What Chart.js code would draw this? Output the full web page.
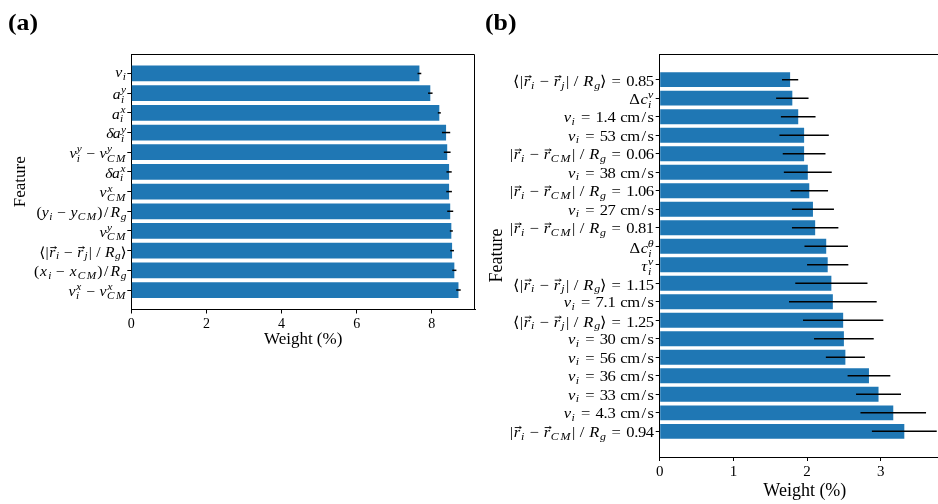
<!DOCTYPE html>
<html>
<head>
<meta charset="utf-8">
<title>Feature weights</title>
<script src="https://cdn.jsdelivr.net/npm/chart.js@4.4.1/dist/chart.umd.min.js"></script>
<style>
  html, body { margin: 0; padding: 0; background: #fff; }
  #fig { position: relative; width: 938px; height: 504px; overflow: hidden; background: #fff; }
  #fig canvas { position: absolute; top: 0; }
</style>
</head>
<body>
<div id="fig">
  <canvas id="panelA" width="480" height="504" style="left:0px"></canvas>
  <canvas id="panelB" width="490" height="504" style="left:470px"></canvas>
</div>
<script>
// ---- panel (a): feature weights, top to bottom ----
const featuresA = [
  "v_i",
  "a_i^y",
  "a_i^x",
  "\\delta a_i^y",
  "v_i^y - v_{CM}^y",
  "\\delta a_i^x",
  "v_{CM}^x",
  "(y_i - y_{CM})/R_g",
  "v_{CM}^y",
  "\\langle|\\vec{r}_i - \\vec{r}_j|\\,/\\,R_g\\rangle",
  "(x_i - x_{CM})/R_g",
  "v_i^x - v_{CM}^x"
];
const weightsA = [7.67, 7.96, 8.20, 8.38, 8.41, 8.46, 8.46, 8.49, 8.52, 8.54, 8.60, 8.71];
const errorsA  = [0.05, 0.06, 0.04, 0.11, 0.09, 0.07, 0.075, 0.08, 0.04, 0.05, 0.055, 0.06];
const ticksA   = [0, 2, 4, 6, 8];

// ---- panel (b): feature weights, top to bottom ----
const featuresB = [
  "\\langle|\\vec{r}_i - \\vec{r}_j|\\,/\\,R_g\\rangle = 0.85",
  "\\Delta c_i^v",
  "v_i = 1.4\\rm{ cm/s}",
  "v_i = 53\\rm{ cm/s}",
  "|\\vec{r}_i - \\vec{r}_{CM}|\\,/\\,R_g = 0.06",
  "v_i = 38\\rm{ cm/s}",
  "|\\vec{r}_i - \\vec{r}_{CM}|\\,/\\,R_g = 1.06",
  "v_i = 27\\rm{ cm/s}",
  "|\\vec{r}_i - \\vec{r}_{CM}|\\,/\\,R_g = 0.81",
  "\\Delta c_i^\\theta",
  "\\tau_i^v",
  "\\langle|\\vec{r}_i - \\vec{r}_j|\\,/\\,R_g\\rangle = 1.15",
  "v_i = 7.1\\rm{ cm/s}",
  "\\langle|\\vec{r}_i - \\vec{r}_j|\\,/\\,R_g\\rangle = 1.25",
  "v_i = 30\\rm{ cm/s}",
  "v_i = 56\\rm{ cm/s}",
  "v_i = 36\\rm{ cm/s}",
  "v_i = 33\\rm{ cm/s}",
  "v_i = 4.3\\rm{ cm/s}",
  "|\\vec{r}_i - \\vec{r}_{CM}|\\,/\\,R_g = 0.94"
];
const weightsB = [1.77, 1.80, 1.88, 1.96, 1.96, 2.01, 2.03, 2.08, 2.11, 2.26,
                  2.28, 2.33, 2.35, 2.49, 2.50, 2.52, 2.84, 2.97, 3.17, 3.32];
const errorsB  = [0.11, 0.22, 0.235, 0.335, 0.29, 0.325, 0.255, 0.285, 0.315, 0.295,
                  0.28, 0.49, 0.595, 0.545, 0.405, 0.265, 0.29, 0.305, 0.445, 0.44];
const ticksB   = [0, 1, 2, 3];

const BAR_COLOR = '#1f77b4';
const SERIF = '"Liberation Serif", "DejaVu Serif", serif';

// ---- tiny math-label typesetter (italic symbols, sub/superscripts, vector arrows) ----
const SYMBOLS = {
  langle: ['\u27E8', false], rangle: ['\u27E9', false],
  Delta: ['\u0394', false], delta: ['\u03B4', true],
  tau: ['\u03C4', true], theta: ['\u03B8', true]
};

// advance widths (em) of the Computer Modern glyphs used in the labels
const ADV_ITALIC = {
  v: .485, a: .529, x: .572, y: .49, r: .451, i: .345, j: .412, g: .477, c: .433,
  C: .715, M: .97, R: .759, '\u03B4': .444, '\u03C4': .437, '\u03B8': .469
};
const ADV_ROMAN = {
  '0': .5, '1': .5, '2': .5, '3': .5, '4': .5, '5': .5, '6': .5, '7': .5, '8': .5, '9': .5,
  '.': .278, '(': .389, ')': .389, '/': .5, '|': .278, '\u0394': .833,
  c: .444, m: .833, s: .394, ' ': .333, '\u27E8': .389, '\u27E9': .389
};
const SCRIPT_GLYPH = 0.72;   // script glyph size relative to the base size
const SCRIPT_ADV = 0.82;     // script advance relative to the base advance
const STRETCH = 1.12;        // horizontal widening of the glyphs

function parseMath(s) {
  let p = 0;
  function atom() {
    const c = s[p];
    if (c === '{') { p++; const list = seq('}'); p++; return { kind: 'group', list }; }
    if (c === '\\') {
      p++;
      if (s[p] === ',') { p++; return { kind: 'space', w: 0.167 }; }
      let name = '';
      while (p < s.length && /[A-Za-z]/.test(s[p])) name += s[p++];
      if (name === 'vec') return { kind: 'vec', base: atom() };
      if (name === 'rm') {
        p++; let t = '';
        while (s[p] !== '}') t += s[p++];
        p++;
        return { kind: 'text', text: t, italic: false };
      }
      const sym = SYMBOLS[name];
      return { kind: 'text', text: sym[0], italic: sym[1] };
    }
    p++;
    if (/[A-Za-z]/.test(c)) return { kind: 'text', text: c, italic: true };
    if (c === '-') return { kind: 'op', text: '\u2212', gap: 0.222 };
    if (c === '=') return { kind: 'op', text: '=', gap: 0.278 };
    return { kind: 'text', text: c, italic: false };
  }
  function seq(end) {
    const out = [];
    while (p < s.length && s[p] !== end) {
      if (s[p] === ' ') { p++; continue; }
      if (s[p] === '_' || s[p] === '^') {
        const which = s[p++];
        const arg = atom();
        let last = out[out.length - 1];
        if (!last || last.kind !== 'script') {
          last = { kind: 'script', base: last, sub: null, sup: null };
          out[out.length - 1] = last;
        }
        if (which === '_') last.sub = arg; else last.sup = arg;
        continue;
      }
      out.push(atom());
    }
    return out;
  }
  return { kind: 'group', list: seq(undefined) };
}

function setFont(ctx, italic, size) {
  ctx.font = (italic ? 'italic ' : '') + size + 'px ' + SERIF;
}

function drawGlyph(ctx, ch, x, y) {
  ctx.save();
  ctx.translate(x, y);
  ctx.scale(STRETCH, 1);
  ctx.fillText(ch, 0, 0);
  ctx.restore();
}

// lays out (and optionally draws) a node; size = glyph px, unit = px per em of advance.
// returns the width and the ink height above the baseline
function typeset(ctx, node, size, unit, x, y, draw) {
  switch (node.kind) {
    case 'group': {
      let w = 0, asc = 0;
      for (const n of node.list) {
        const b = typeset(ctx, n, size, unit, x + w, y, draw);
        w += b.w; asc = Math.max(asc, b.asc);
      }
      return { w, asc };
    }
    case 'text': {
      setFont(ctx, node.italic, size);
      const table = node.italic ? ADV_ITALIC : ADV_ROMAN;
      let w = 0, asc = 0;
      for (const ch of node.text) {
        const m = ctx.measureText(ch);
        const gw = m.width * STRETCH;
        const adv = table[ch] !== undefined ? table[ch] * unit : gw * unit / size;
        if (draw) drawGlyph(ctx, ch, x + w + (adv - gw) / 2, y);
        w += adv;
        asc = Math.max(asc, m.actualBoundingBoxAscent);
      }
      return { w, asc };
    }
    case 'op': {
      setFont(ctx, false, size);
      const m = ctx.measureText(node.text);
      const gw = m.width * STRETCH;
      const adv = (0.778 + 2 * node.gap) * unit;
      if (draw) drawGlyph(ctx, node.text, x + (adv - gw) / 2, y);
      return { w: adv, asc: m.actualBoundingBoxAscent };
    }
    case 'space':
      return { w: node.w * unit, asc: 0 };
    case 'vec': {
      const b = typeset(ctx, node.base, size, unit, x, y, draw);
      const ay = y - size * 0.64;
      const xs = x + b.w * 0.5 - size * 0.15;
      const xe = xs + size * 0.44;
      if (draw) {
        ctx.save();
        ctx.strokeStyle = ctx.fillStyle;
        ctx.lineWidth = 0.9;
        ctx.beginPath();
        ctx.moveTo(xs, ay); ctx.lineTo(xe, ay);
        ctx.moveTo(xe - size * 0.12, ay - size * 0.08); ctx.lineTo(xe, ay);
        ctx.lineTo(xe - size * 0.12, ay + size * 0.08);
        ctx.stroke();
        ctx.restore();
      }
      return { w: b.w, asc: size * 0.72 };
    }
    case 'script': {
      const b = node.base ? typeset(ctx, node.base, size, unit, x, y, draw) : { w: 0, asc: 0 };
      const s = size * SCRIPT_GLYPH, u = unit * SCRIPT_ADV;
      const both = node.sub && node.sup;
      let w = 0, asc = b.asc;
      if (node.sup) {
        const dy = size * (both ? 0.40 : 0.38);
        const r = typeset(ctx, node.sup, s, u, x + b.w, y - dy, draw);
        w = Math.max(w, r.w); asc = Math.max(asc, r.asc + dy);
      }
      if (node.sub) {
        const dy = size * (both ? 0.27 : 0.18);
        const r = typeset(ctx, node.sub, s, u, x + b.w, y + dy, draw);
        w = Math.max(w, r.w);
      }
      return { w: b.w + w, asc };
    }
  }
  return { w: 0, asc: 0 };
}

function panelChart(canvasId, spec) {
  const parsed = spec.features.map(parseMath);
  const data = spec.weights.map((w, i) => ({ x: w, y: i }));

  const errorBars = {
    id: 'errorBars',
    afterDatasetsDraw(chart) {
      const { ctx, scales: { x, y } } = chart;
      ctx.save();
      ctx.strokeStyle = '#000';
      ctx.lineWidth = 1.5;
      spec.weights.forEach((w, i) => {
        const py = y.getPixelForValue(i);
        ctx.beginPath();
        ctx.moveTo(x.getPixelForValue(w - spec.errors[i]), py);
        ctx.lineTo(x.getPixelForValue(w + spec.errors[i]), py);
        ctx.stroke();
      });
      ctx.restore();
    }
  };

  const frame = {
    id: 'frame',
    afterDraw(chart) {
      const { ctx, chartArea: a } = chart;
      const t = Math.round(a.top) + 0.5, r = Math.round(a.right) - 0.5;
      ctx.save();
      ctx.strokeStyle = '#000';
      ctx.lineWidth = 1;
      ctx.beginPath();
      ctx.moveTo(a.left, t); ctx.lineTo(r, t); ctx.lineTo(r, a.bottom);
      ctx.stroke();
      ctx.restore();
    }
  };

  const featureLabels = {
    id: 'featureLabels',
    afterDraw(chart) {
      const { ctx, chartArea: a, scales: { y } } = chart;
      ctx.save();
      ctx.fillStyle = '#000';
      ctx.textBaseline = 'alphabetic';
      ctx.textAlign = 'left';
      parsed.forEach((node, i) => {
        const m = typeset(ctx, node, spec.glyph, spec.unit, 0, 0, false);
        const py = y.getPixelForValue(i);
        typeset(ctx, node, spec.glyph, spec.unit, a.left - spec.labelGap - m.w, py + m.asc / 2 + 0.4, true);
      });
      ctx.font = 'bold 23px ' + SERIF;
      drawGlyph(ctx, spec.tag, spec.tagX, spec.tagY);
      ctx.restore();
    }
  };

  const axisLine = { offset: false, drawOnChartArea: false, drawTicks: true, tickLength: 4, color: '#000', lineWidth: 1 };
  const titleFont = { family: SERIF, size: spec.titleSize, lineHeight: 1.2 };

  return new Chart(document.getElementById(canvasId), {
    type: 'bar',
    data: {
      datasets: [{
        data,
        backgroundColor: BAR_COLOR,
        borderWidth: 0,
        barPercentage: 0.8,
        categoryPercentage: 1
      }]
    },
    options: {
      indexAxis: 'y',
      responsive: false,
      animation: false,
      devicePixelRatio: 1,
      layout: { padding: spec.padding },
      plugins: { legend: { display: false }, tooltip: { enabled: false } },
      scales: {
        x: {
          type: 'linear', min: 0, max: spec.xMax,
          afterBuildTicks: s => { s.ticks = spec.ticks.map(v => ({ value: v })); },
          afterFit: s => { s.height = spec.xHeight; },
          grid: axisLine,
          border: { display: true, color: '#000', width: 1 },
          ticks: { color: '#000', font: { family: SERIF, size: spec.tickSize }, padding: 2, maxRotation: 0, callback: v => String(v) },
          title: { display: true, text: 'Weight (%)', color: '#000', font: titleFont, padding: 0 }
        },
        y: {
          type: 'linear', reverse: true, offset: false, min: spec.yMin, max: spec.yMax,
          afterBuildTicks: s => { s.ticks = spec.features.map((_, i) => ({ value: i })); },
          afterFit: s => { s.width = spec.yWidth; },
          grid: axisLine,
          border: { display: true, color: '#000', width: 1 },
          ticks: { display: false },
          title: { display: true, text: 'Feature', color: '#000', font: titleFont, padding: 0 }
        }
      }
    },
    plugins: [errorBars, frame, featureLabels]
  });
}

panelChart('panelA', {
  features: featuresA, weights: weightsA, errors: errorsA, ticks: ticksA,
  xMax: 9.15, yMin: -0.99, yMax: 11.99,
  padding: { left: 10.8, top: 54, right: 5, bottom: 153.8 },
  yWidth: 120.5, xHeight: 40.7,
  glyph: 14, unit: 14.3, labelGap: 5, tickSize: 14, titleSize: 17,
  tag: '(a)', tagX: 8, tagY: 30
});

panelChart('panelB', {
  features: featuresB, weights: weightsB, errors: errorsB, ticks: ticksB,
  xMax: 3.94, yMin: -1.39, yMax: 20.39,
  padding: { left: 16.8, top: 54, right: 10, bottom: 1.8 },
  yWidth: 172.9, xHeight: 45.2,
  glyph: 14.8, unit: 15.3, labelGap: 6, tickSize: 15, titleSize: 18,
  tag: '(b)', tagX: 15, tagY: 30
});
</script>
</body>
</html>
